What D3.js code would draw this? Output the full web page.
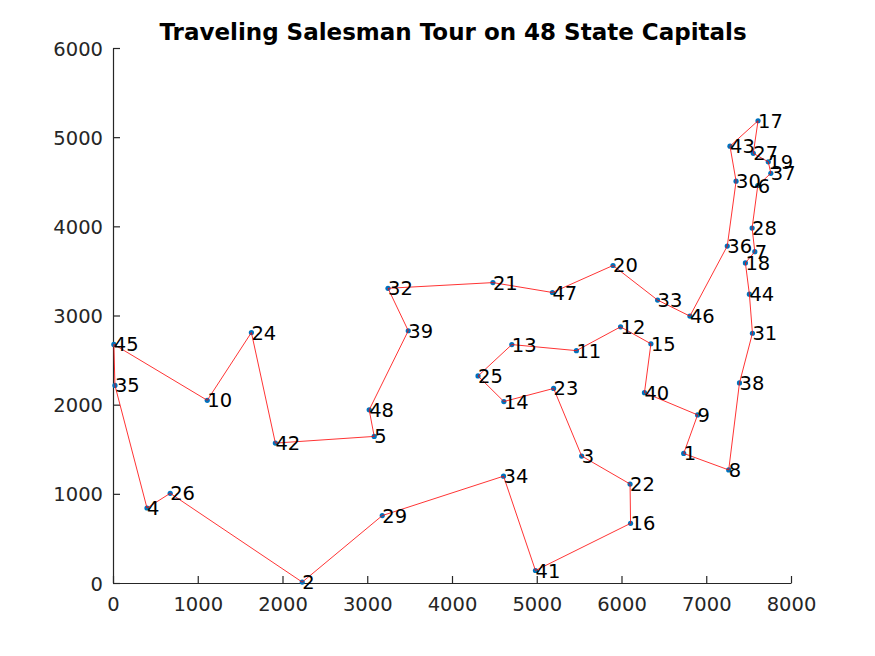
<!DOCTYPE html>
<html>
<head>
<meta charset="utf-8">
<script src="https://cdn.jsdelivr.net/npm/d3@7"></script>
<style>
body{margin:0;background:#fff}
svg{font-family:"DejaVu Sans",sans-serif}
.tick text{fill:#262626}
</style>
</head>
<body>
<div id="chart"></div>
<script>
// city coordinates, index i -> city i+1
var cityX=[6734,2233,5530,401,3082,7608,7573,7265,6898,1112,5468,5989,4706,4612,6347,6107,7611,7462,7732,5900,4483,6101,5199,1633,4307,675,7555,7541,3177,7352,7545,3245,6426,4608,23,7248,7762,7392,3484,6271,4985,1916,7280,7509,10,6807,5185,3023]
var cityY=[1453,10,1424,841,1644,4458,3716,1268,1885,2049,2606,2873,2674,2035,2683,669,5184,3590,4723,3561,3369,1110,2182,2809,2322,1006,4819,3981,756,4506,2801,3305,3173,1198,2216,3779,4595,2244,2829,2135,140,1569,4899,3239,2676,2993,3258,1942]
// visiting order
var tour=[1,8,38,31,44,18,7,28,6,37,19,27,17,43,30,36,46,33,20,47,21,32,39,48,5,42,24,10,45,35,4,26,2,29,34,41,16,22,3,23,14,25,13,11,12,15,40,9,1]
var xTicks=[0,1000,2000,3000,4000,5000,6000,7000,8000]
var yTicks=[0,1000,2000,3000,4000,5000,6000]

var W=875,H=656
var m={left:113,right:84,top:48,bottom:73}

var svg=d3.select('#chart').append('svg')
    .attr('width',W).attr('height',H)

var x=d3.scaleLinear().domain([0,8000]).range([m.left,W-m.right])
var y=d3.scaleLinear().domain([0,6000]).range([H-m.bottom,m.top])

var xa=svg.append('g')
    .attr('transform','translate(0,'+(H-m.bottom)+')')
    .call(d3.axisBottom(x).tickValues(xTicks).tickFormat(d3.format('d')).tickSizeInner(-7).tickSizeOuter(0).tickPadding(14))
var ya=svg.append('g')
    .attr('transform','translate('+m.left+',0)')
    .call(d3.axisLeft(y).tickValues(yTicks).tickFormat(d3.format('d')).tickSizeInner(-7).tickSizeOuter(0).tickPadding(10))
svg.selectAll('.domain,.tick line').attr('stroke','#262626').attr('stroke-width',1.2)
svg.selectAll('.tick text').attr('font-size',19.5).attr('font-family','DejaVu Sans')
ya.selectAll('.tick text').attr('dy','0.36em')

var pts=cityX.map(function(d,i){return {id:i+1,x:d,y:cityY[i]}})

svg.append('g').selectAll('circle')
    .data(pts).enter().append('circle')
    .attr('cx',function(d){return x(d.x)})
    .attr('cy',function(d){return y(d.y)})
    .attr('r',2.6)
    .attr('fill','#0072BD')

var line=d3.line()
    .x(function(c){return x(cityX[c-1])})
    .y(function(c){return y(cityY[c-1])})
svg.append('path')
    .datum(tour)
    .attr('d',line)
    .attr('fill','none')
    .attr('stroke','#ff0000')
    .attr('stroke-width',0.8)

svg.append('g').selectAll('text')
    .data(pts).enter().append('text')
    .attr('x',function(d){return x(d.x)})
    .attr('y',function(d){return y(d.y)})
    .attr('dy','0.36em')
    .attr('font-size',19.5)
    .attr('fill','#000')
    .text(function(d){return d.id})

svg.append('text')
    .attr('x',(m.left+W-m.right)/2+1)
    .attr('y',40)
    .attr('text-anchor','middle')
    .attr('font-size',23)
    .attr('font-weight','bold')
    .text('Traveling Salesman Tour on 48 State Capitals')
</script>
</body>
</html>
